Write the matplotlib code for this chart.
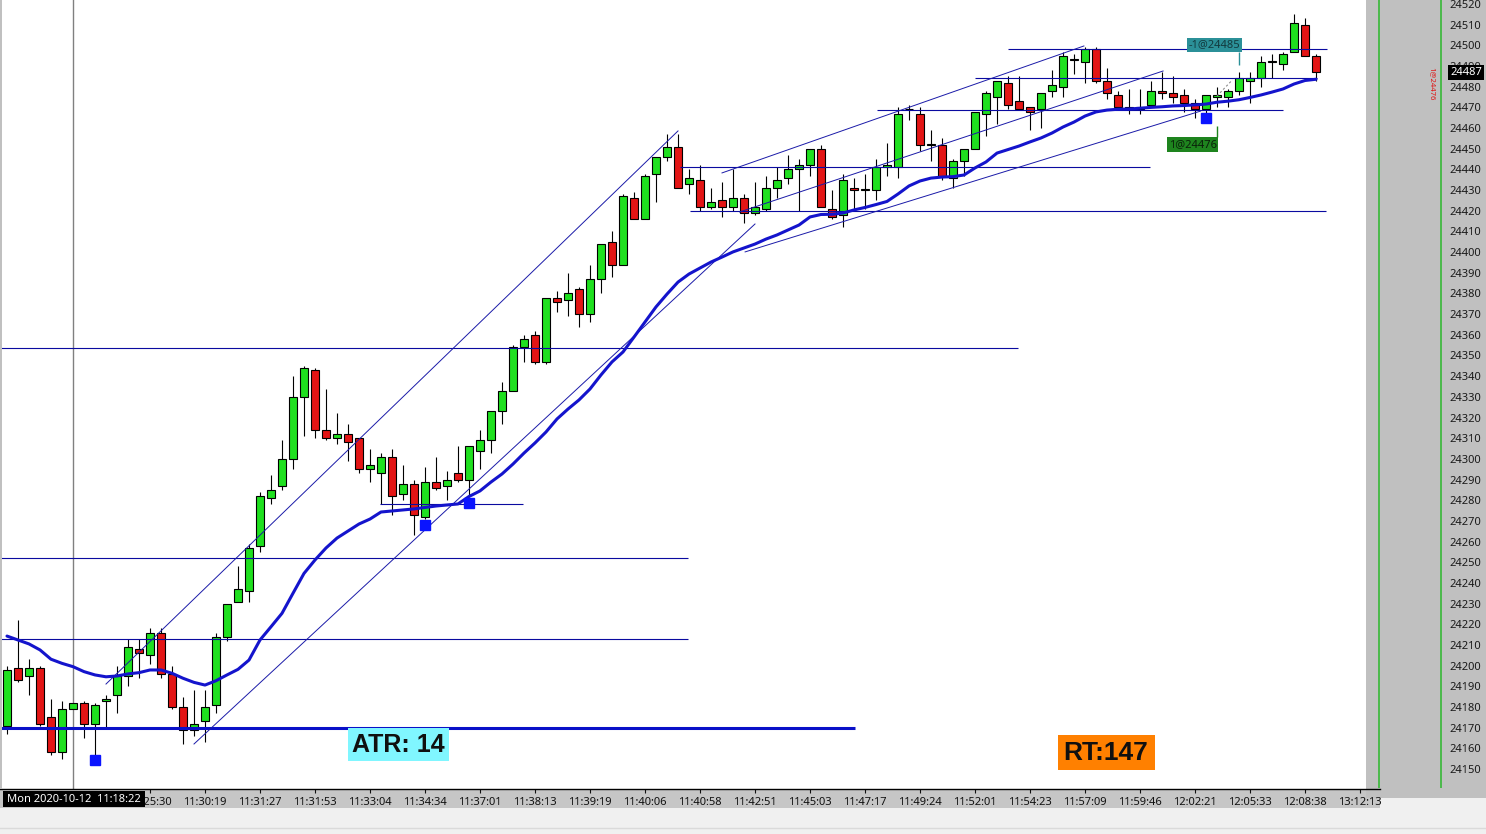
import numpy as np
import matplotlib
matplotlib.use('Agg')
import matplotlib.pyplot as plt
from matplotlib.patches import Rectangle
from matplotlib.lines import Line2D

plt.rcParams['font.family'] = ['Noto Sans', 'DejaVu Sans']

# ---- candle data, one entry per bar ----
opens = [
    24171, 24199, 24195, 24199, 24175, 24158, 24179, 24182, 24172, 24183,
    24186, 24195, 24208, 24205, 24216, 24196, 24180, 24169, 24173, 24181,
    24214, 24231, 24236, 24258, 24281, 24287, 24300, 24330, 24343, 24314,
    24310, 24312, 24310, 24295, 24293, 24301, 24283, 24288, 24272, 24289,
    24287, 24293, 24290, 24304, 24309, 24323, 24333, 24354, 24360, 24347,
    24378, 24377, 24382, 24370, 24387, 24405, 24394, 24426, 24416, 24438,
    24446, 24451, 24433, 24435, 24422, 24425, 24422, 24426, 24419, 24421,
    24431, 24436, 24440, 24442, 24450, 24421, 24418, 24431, 24430, 24430,
    24441, 24441, 24469, 24467, 24452, 24452, 24436, 24444, 24450, 24467,
    24475, 24482, 24473, 24470, 24469, 24478, 24480, 24493, 24492, 24498,
    24483, 24476, 24469, 24469, 24471, 24478, 24477, 24476, 24472, 24469,
    24475, 24475, 24478, 24483, 24484, 24492, 24491, 24497, 24510, 24495,
]
highs = [
    24200, 24222, 24203, 24200, 24184, 24183, 24182, 24183, 24182, 24186,
    24200, 24213, 24213, 24218, 24218, 24200, 24185, 24188, 24188, 24216,
    24230, 24248, 24259, 24284, 24292, 24309, 24340, 24345, 24344, 24334,
    24322, 24317, 24310, 24305, 24303, 24305, 24297, 24290, 24296, 24301,
    24294, 24306, 24306, 24314, 24323, 24337, 24355, 24360, 24362, 24378,
    24381, 24390, 24383, 24394, 24404, 24410, 24428, 24429, 24438, 24446,
    24457, 24457, 24440, 24442, 24431, 24434, 24440, 24428, 24434, 24437,
    24441, 24447, 24445, 24450, 24452, 24430, 24438, 24436, 24438, 24445,
    24453, 24470, 24471, 24470, 24459, 24455, 24445, 24450, 24468, 24478,
    24483, 24485, 24485, 24470, 24477, 24488, 24497, 24496, 24499, 24499,
    24489, 24478, 24479, 24479, 24483, 24487, 24485, 24479, 24474, 24476,
    24480, 24479, 24487, 24487, 24495, 24496, 24497, 24515, 24513, 24496,
]
lows = [
    24167, 24192, 24186, 24171, 24157, 24155, 24179, 24165, 24155, 24170,
    24177, 24190, 24194, 24201, 24194, 24179, 24162, 24166, 24163, 24177,
    24212, 24231, 24231, 24255, 24278, 24285, 24295, 24311, 24310, 24309,
    24307, 24299, 24293, 24289, 24278, 24273, 24280, 24263, 24271, 24285,
    24280, 24289, 24282, 24295, 24303, 24317, 24333, 24347, 24346, 24346,
    24371, 24369, 24364, 24366, 24380, 24388, 24394, 24416, 24416, 24424,
    24444, 24431, 24428, 24420, 24421, 24417, 24420, 24414, 24418, 24420,
    24426, 24433, 24420, 24437, 24422, 24416, 24412, 24421, 24421, 24425,
    24437, 24436, 24464, 24449, 24444, 24435, 24431, 24437, 24450, 24456,
    24462, 24469, 24469, 24459, 24460, 24475, 24475, 24486, 24482, 24482,
    24474, 24469, 24467, 24467, 24470, 24474, 24472, 24468, 24465, 24467,
    24470, 24470, 24476, 24472, 24480, 24484, 24488, 24497, 24495, 24483,
]
closes = [
    24198, 24193, 24199, 24172, 24158, 24179, 24182, 24172, 24181, 24184,
    24195, 24209, 24206, 24216, 24196, 24180, 24169, 24172, 24180, 24214,
    24230, 24237, 24257, 24282, 24285, 24300, 24330, 24344, 24314, 24310,
    24312, 24308, 24295, 24297, 24301, 24282, 24288, 24273, 24289, 24286,
    24290, 24290, 24306, 24309, 24323, 24333, 24354, 24358, 24347, 24378,
    24376, 24380, 24370, 24387, 24404, 24394, 24427, 24416, 24437, 24446,
    24451, 24431, 24436, 24422, 24424, 24422, 24426, 24419, 24422, 24431,
    24435, 24440, 24442, 24450, 24422, 24417, 24435, 24430, 24430, 24441,
    24442, 24467, 24469, 24452, 24452, 24437, 24444, 24450, 24468, 24477,
    24483, 24471, 24469, 24468, 24477, 24481, 24495, 24493, 24498, 24483,
    24477, 24470, 24470, 24470, 24478, 24477, 24475, 24472, 24469, 24476,
    24476, 24478, 24484, 24484, 24492, 24492, 24496, 24511, 24495, 24487,
]
# moving average as drawn on the chart
ma = [
    24214.3, 24212.4, 24210.5, 24207.6, 24203.1, 24201.1, 24199.5, 24197.1, 24195.5, 24194.6,
    24195.0, 24196.0, 24196.6, 24197.9, 24197.9, 24196.3, 24193.9, 24191.9, 24190.6, 24192.7,
    24195.5, 24198.2, 24202.7, 24212.4, 24218.8, 24225.3, 24235.0, 24244.6, 24251.1, 24256.9,
    24261.7, 24265.1, 24268.5, 24270.9, 24274.3, 24274.8, 24275.3, 24275.8, 24276.5, 24277.2,
    24277.7, 24278.2, 24281.8, 24284.5, 24288.8, 24292.7, 24297.5, 24302.8, 24307.7, 24313.0,
    24319.3, 24324.1, 24328.5, 24333.8, 24340.6, 24346.9, 24351.7, 24358.9, 24366.2, 24373.5,
    24379.7, 24385.5, 24389.4, 24392.3, 24395.2, 24397.6, 24400.1, 24402.0, 24403.9, 24406.3,
    24408.3, 24410.7, 24413.1, 24417.0, 24418.2, 24418.3, 24418.9, 24420.4, 24421.6, 24423.0,
    24424.5, 24428.1, 24432.0, 24434.4, 24435.8, 24436.3, 24436.5, 24437.3, 24440.7, 24443.6,
    24447.9, 24449.6, 24451.3, 24453.3, 24455.2, 24457.6, 24460.5, 24462.9, 24465.8, 24467.8,
    24468.7, 24469.1, 24469.2, 24469.6, 24470.0, 24470.3, 24470.7, 24470.9, 24471.2, 24471.6,
    24472.5, 24473.0, 24473.7, 24474.8, 24476.0, 24477.4, 24478.9, 24481.3, 24483.0, 24483.6,
]

tick_idx = [13, 18, 23, 28, 33, 38, 43, 48, 53, 58, 63, 68, 73, 78, 83, 88, 93, 98,
            103, 108, 113, 118, 123]
tick_lbl = ["11:25:30", "11:30:19", "11:31:27", "11:31:53", "11:33:04", "11:34:34",
            "11:37:01", "11:38:13", "11:39:19", "11:40:06", "11:40:58", "11:42:51",
            "11:45:03", "11:47:17", "11:49:24", "11:52:01", "11:54:23", "11:57:09",
            "11:59:46", "12:02:21", "12:05:33", "12:08:38", "13:12:13"]
price_ticks = list(range(24150, 24521, 10))
last_price = 24487

# drawn objects: horizontal levels (price, from bar, to bar)
h_level = [24353.6, 24252.1, 24212.9, 24278.2, 24441.2, 24419.9, 24468.5, 24484.1, 24498.1]
h_from = [-1, -1, -1, 33.9, 61.2, 62.1, 79.1, 88.0, 91.0]
h_to = [91.9, 61.9, 61.9, 46.9, 103.9, 119.9, 116.0, 119.1, 120.0]
atr_level, atr_from, atr_to = 24170, -1, 77.1
# trend lines (bar, price) -> (bar, price)
tl_x0 = [9.0, 17.0, 65.0, 66.6, 67.1]
tl_p0 = [24191.1, 24162.1, 24438.3, 24419.4, 24400.1]
tl_x1 = [61.0, 68.0, 97.9, 105.1, 108.5]
tl_p1 = [24458.6, 24413.6, 24499.7, 24487.6, 24468.2]
# signal squares
sq_idx = [8, 38, 42, 109]
sq_price = [24154.4, 24268.0, 24278.7, 24464.9]
cursor_idx = 6

# ---- layout in screen pixels ----
W, H = 1486, 834
PX_PER_PT = 2.0676
PLOT_R, PLOT_B = 1366, 789


def price_at(py):
    return 24520 - (py - 4) / PX_PER_PT


def idx_at(px):
    return (px - 7) / 11.0


def fx(px):
    return px / W


def fy(py):
    return 1 - py / H


GREEN = '#1fe01f'
RED = '#e31515'
NAVY = '#0a0aa0'

fig = plt.figure(figsize=(W / 100, H / 100), dpi=100, facecolor='#f0f0f0')

# right price panel (drawn below the main axes so time labels stay visible)
axr = fig.add_axes([fx(PLOT_R), fy(798), fx(W - PLOT_R), 798 / H])
axr.set_zorder(1)
axr.set_facecolor('#c0c0c0')
axr.set_xlim(0, W - PLOT_R)
axr.set_ylim(price_at(798), price_at(0))
for s in axr.spines.values():
    s.set_visible(False)
axr.set_xticks([])
axr.set_yticks(price_ticks)
axr.tick_params(axis='y', length=0, pad=-115 * 0.72, labelsize=8, colors='#1a1a1a')
axr.vlines([13, 75], price_at(788), price_at(0), color='#2ab82a', lw=1.1)
axr.text(116, last_price, str(last_price), ha='right', va='center', fontsize=8,
         color='white', zorder=5,
         bbox=dict(facecolor='black', edgecolor='none', pad=1.5))
axr.text(66, price_at(84), '1@24476', rotation=270, ha='center', va='center',
         fontsize=5.5, color='#e01010')

ax = fig.add_axes([0, fy(PLOT_B), fx(PLOT_R), PLOT_B / H])
ax.set_zorder(2)
ax.set_facecolor('white')
ax.set_xlim(idx_at(0), idx_at(PLOT_R))
ax.set_ylim(price_at(PLOT_B), price_at(0))
for s in ax.spines.values():
    s.set_visible(False)
ax.set_yticks([])
ax.set_xticks(tick_idx)
ax.set_xticklabels(tick_lbl)
ax.tick_params(axis='x', direction='out', length=3, width=0.8, pad=2.5,
               labelsize=8, colors='#111111')

# candles
idx = np.arange(len(closes))
o = np.array(opens, dtype=float)
c = np.array(closes, dtype=float)
body_lo = np.minimum(o, c)
body_h = np.maximum(np.abs(c - o), 0.35)
colors = np.where(c >= o, GREEN, RED)
ax.vlines(idx, lows, highs, color='black', lw=0.8, zorder=2)
ax.bar(idx, body_h, bottom=body_lo, width=0.64, color=colors,
       edgecolor='black', linewidth=0.8, zorder=3)

# moving average
ax.plot(idx, ma, color='#1414cc', lw=2.2, zorder=5, solid_capstyle='round')

# drawings
ax.hlines(h_level, h_from, h_to, color=NAVY, lw=0.8, zorder=4)
ax.hlines(atr_level, atr_from, atr_to, color='#0a10c8', lw=2.2, zorder=4)
for x0, p0, x1, p1 in zip(tl_x0, tl_p0, tl_x1, tl_p1):
    ax.plot([x0, x1], [p0, p1], color='#1a1aa8', lw=0.7, zorder=4)
ax.plot(sq_idx, sq_price, 's', color='#0a14ff', ms=7.5, ls='none', zorder=6)
ax.axvline(cursor_idx, color='#808080', lw=1, zorder=1)

# trade markers
ax.plot([110, 111.4], [24475.5, 24483.3], ls=(0, (2, 2)), color='#8c8c8c', lw=0.8, zorder=5)
ax.vlines(112, 24490.5, 24496.8, color='#2b9098', lw=1, zorder=5)
ax.vlines(110, 24455.5, 24461.0, color='#1e841e', lw=1, zorder=5)
ax.text(109.8, 24500.2, '-1@24485', ha='center', va='center', fontsize=8,
        color='#123a3e', zorder=7,
        bbox=dict(facecolor='#2b9098', edgecolor='none', pad=1.2))
ax.text(107.8, 24452.0, '1@24476', ha='center', va='center', fontsize=8,
        color='#0a200a', zorder=7,
        bbox=dict(facecolor='#1e841e', edgecolor='none', pad=1.2))

# time strip and bottom area
fig.add_artist(Rectangle((0, fy(808)), fx(1380), (808 - PLOT_B) / H,
                         transform=fig.transFigure, facecolor='#c6c6c6',
                         edgecolor='none', zorder=-1))
fig.add_artist(Line2D([0, fx(1380)], [fy(PLOT_B), fy(PLOT_B)],
                      transform=fig.transFigure, color='black', lw=1, zorder=3))
fig.add_artist(Line2D([0, 1], [fy(828), fy(828)], transform=fig.transFigure,
                      color='#dadada', lw=1))
fig.add_artist(Rectangle((0, fy(PLOT_B)), fx(2), PLOT_B / H,
                         transform=fig.transFigure, facecolor='#c0c0c0',
                         edgecolor='none', zorder=3))

# cursor date box
fig.add_artist(Rectangle((fx(3), fy(807)), fx(142), 16 / H, transform=fig.transFigure,
                         facecolor='black', edgecolor='none', zorder=5))
fig.text(fx(7), fy(799.5), 'Mon 2020-10-12  11:18:22', color='white', fontsize=8,
         ha='left', va='center', zorder=6)

# ATR / RT boxes
fig.add_artist(Rectangle((fx(348), fy(761)), fx(101), 33 / H, transform=fig.transFigure,
                         facecolor='#80f6ff', edgecolor='none', zorder=5))
fig.text(fx(398.5), fy(745), 'ATR: 14', ha='center', va='center', fontsize=18,
         fontweight='bold', family=['Liberation Sans', 'DejaVu Sans'],
         color='#101010', zorder=6)
fig.add_artist(Rectangle((fx(1058), fy(770)), fx(97), 35 / H, transform=fig.transFigure,
                         facecolor='#ff8000', edgecolor='none', zorder=5))
fig.text(fx(1106), fy(753), 'RT:147', ha='center', va='center', fontsize=19,
         fontweight='bold', family=['Liberation Sans', 'DejaVu Sans'],
         color='#101010', zorder=6)

fig.savefig('out.png', dpi=100, facecolor=fig.get_facecolor())
